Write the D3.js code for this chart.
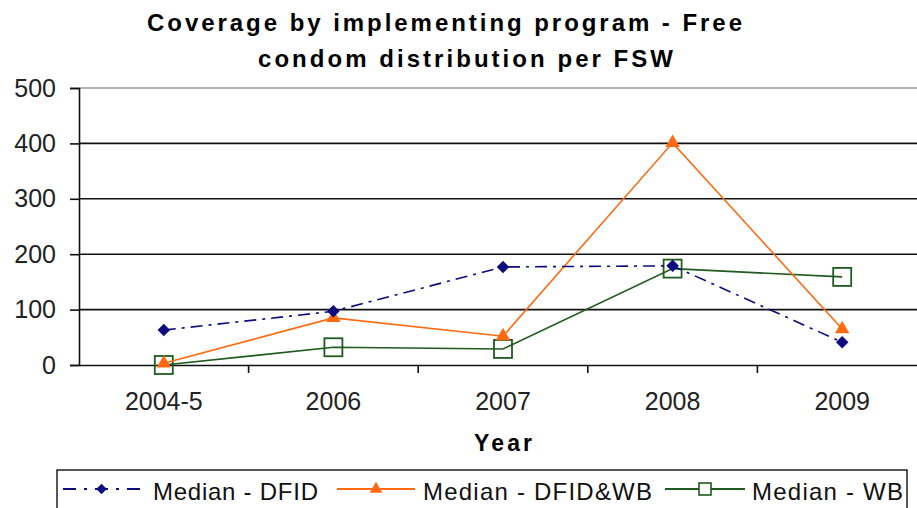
<!DOCTYPE html>
<html>
<head>
<meta charset="utf-8">
<script src="https://cdn.jsdelivr.net/npm/d3@7"></script>
<style>
  body { margin: 0; background: #fff; }
  svg { display: block; font-family: "Liberation Sans", Arial, sans-serif; }
</style>
</head>
<body>
<svg id="chart" width="917" height="508"></svg>
<script>
// data
const years = ["2004-5", "2006", "2007", "2008", "2009"];
const dfid = [63, 97, 177, 179, 41];
const dfidWb = [3, 85, 52, 401, 65];
const wb = [0, 32, 29, 174, 159];
const yTicks = [0, 100, 200, 300, 400, 500];

const svg = d3.select("#chart");

const margin = { left: 79, top: 88, bottom: 365, right: 927 };

const x = d3.scaleBand().domain(years).range([margin.left, margin.right]);
const y = d3.scaleLinear().domain([0, 500]).range([margin.bottom, margin.top]);

// title (letter spaced, bold)
svg.append("text")
  .attr("x", 147).attr("y", 31)
  .attr("font-size", 24).attr("font-weight", "bold")
  .attr("textLength", 595).attr("lengthAdjust", "spacing")
  .text("Coverage by implementing program - Free");
svg.append("text")
  .attr("x", 258).attr("y", 67)
  .attr("font-size", 24).attr("font-weight", "bold")
  .attr("textLength", 415).attr("lengthAdjust", "spacing")
  .text("condom distribution per FSW");

// gridlines
svg.append("g")
  .selectAll("line")
  .data(yTicks.filter(d => d > 0))
  .enter()
  .append("line")
  .attr("x1", margin.left).attr("x2", margin.right)
  .attr("y1", d => y(d)).attr("y2", d => y(d))
  .attr("stroke", d => d === 500 ? "#999" : "#111")
  .attr("stroke-width", 1.6);

// y axis
const yAxis = svg.append("g")
  .attr("transform", `translate(${margin.left},0)`)
  .call(d3.axisLeft(y).tickValues(yTicks).tickSize(9).tickPadding(14));
yAxis.select(".domain").attr("stroke", "#111").attr("stroke-width", 1.6);
yAxis.selectAll(".tick line").attr("stroke", "#111").attr("stroke-width", 1.6);
yAxis.selectAll(".tick text")
  .attr("font-size", 25).attr("fill", "#222")
  .attr("font-family", "Liberation Sans, Arial, sans-serif");

// x axis
const xAxis = svg.append("g")
  .attr("transform", `translate(0,${margin.bottom})`)
  .call(d3.axisBottom(x).tickSize(0).tickPadding(27));
xAxis.select(".domain").attr("stroke", "#111").attr("stroke-width", 1.6);
xAxis.selectAll(".tick text")
  .attr("font-size", 25).attr("fill", "#222")
  .attr("font-family", "Liberation Sans, Arial, sans-serif");
// tick marks between categories
svg.append("g")
  .selectAll("line")
  .data(years.slice(1))
  .enter()
  .append("line")
  .attr("x1", d => x(d)).attr("x2", d => x(d))
  .attr("y1", margin.bottom).attr("y2", margin.bottom + 8)
  .attr("stroke", "#111").attr("stroke-width", 1.6);

svg.append("text")
  .attr("x", 474).attr("y", 451)
  .attr("font-size", 23).attr("font-weight", "bold")
  .attr("textLength", 58).attr("lengthAdjust", "spacing")
  .text("Year");

const cx = d => x(d) + x.bandwidth() / 2;
const line = d3.line().x(d => cx(d.year)).y(d => y(d.v));
const toPts = arr => years.map((yr, i) => ({ year: yr, v: arr[i] }));

const series = [
  { name: "Median - DFID", values: dfid, color: "#0c0c80", dash: "12,6,3,6", marker: "diamond" },
  { name: "Median - DFID&WB", values: dfidWb, color: "#ff6a10", dash: null, marker: "triangle" },
  { name: "Median - WB", values: wb, color: "#1f5a1f", dash: null, marker: "square" }
];

function drawMarker(g, type, color, px, py) {
  if (type === "diamond") {
    g.append("path")
      .attr("d", d3.symbol().type(d3.symbolDiamond2).size(100)())
      .attr("transform", `translate(${px},${py})`)
      .attr("fill", color);
  } else if (type === "triangle") {
    g.append("path")
      .attr("d", d3.symbol().type(d3.symbolTriangle).size(90)())
      .attr("transform", `translate(${px},${py})`)
      .attr("fill", color);
  } else {
    g.append("rect")
      .attr("x", px - 9).attr("y", py - 9)
      .attr("width", 18).attr("height", 18)
      .attr("fill", "none").attr("stroke", color).attr("stroke-width", 1.8);
  }
}

// draw WB first, then DFID&WB, then DFID on top
[series[2], series[1], series[0]].forEach(s => {
  const g = svg.append("g");
  g.append("path")
    .datum(toPts(s.values))
    .attr("d", line)
    .attr("fill", "none")
    .attr("stroke", s.color)
    .attr("stroke-width", 1.6)
    .attr("stroke-dasharray", s.dash);
  toPts(s.values).forEach(p => drawMarker(g, s.marker, s.color, cx(p.year), y(p.v)));
});

// legend
const legend = svg.append("g");
legend.append("rect")
  .attr("x", 57).attr("y", 470)
  .attr("width", 850).attr("height", 45)
  .attr("fill", "#fff").attr("stroke", "#111").attr("stroke-width", 1.4);

const legendX = [63, 337, 665];
const legendW = [77, 78, 80];
const textX = [153, 423, 752];
const textW = [165, 229, 151];
series.forEach((s, i) => {
  const lg = legend.append("g");
  const x0 = legendX[i], ly = 489;
  lg.append("line")
    .attr("x1", x0).attr("x2", x0 + legendW[i])
    .attr("y1", ly).attr("y2", ly)
    .attr("stroke", s.color).attr("stroke-width", 2)
    .attr("stroke-dasharray", s.dash ? "13,8,3,8" : null);
  if (s.marker === "square") {
    lg.append("rect")
      .attr("x", x0 + legendW[i] / 2 - 6).attr("y", ly - 6)
      .attr("width", 12).attr("height", 12)
      .attr("fill", "#fff").attr("stroke", s.color).attr("stroke-width", 1.6);
  } else {
    lg.append("path")
      .attr("d", d3.symbol().type(s.marker === "diamond" ? d3.symbolDiamond2 : d3.symbolTriangle).size(70)())
      .attr("transform", `translate(${x0 + legendW[i] / 2},${ly})`)
      .attr("fill", s.color);
  }
  lg.append("text")
    .attr("x", textX[i]).attr("y", 500)
    .attr("font-size", 24).attr("fill", "#111")
    .attr("textLength", textW[i]).attr("lengthAdjust", "spacing")
    .text(s.name);
});
</script>
</body>
</html>
